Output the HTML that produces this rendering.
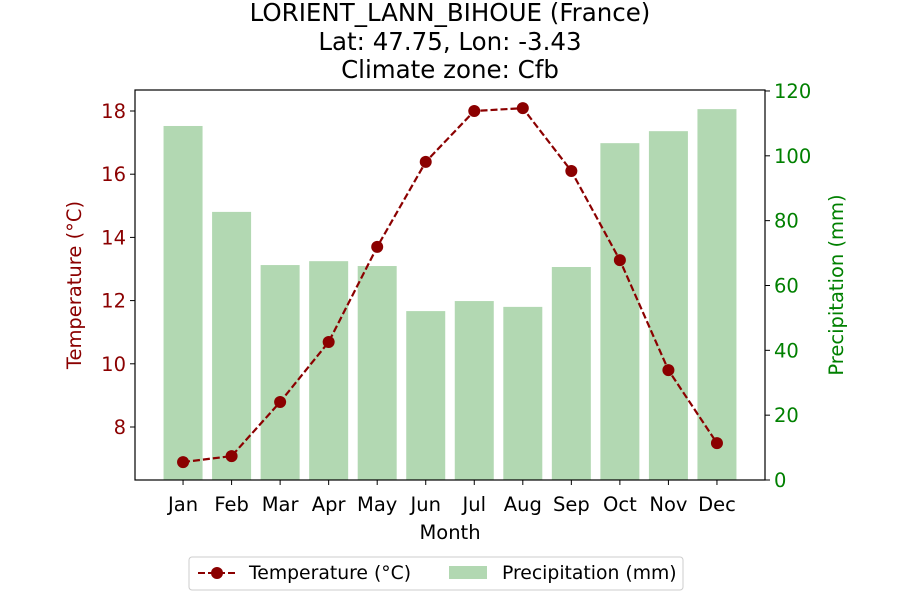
<!DOCTYPE html>
<html><head><meta charset="utf-8"><style>
body{margin:0;background:#fff;}
svg text{font-family:"DejaVu Sans","Liberation Sans",sans-serif;}
</style></head><body>
<svg id="chart" width="900" height="600" xmlns="http://www.w3.org/2000/svg">
<g id="title" font-size="24.5" text-anchor="middle" fill="#000">
<text x="450" y="21">LORIENT_LANN_BIHOUE (France)</text>
<text x="450" y="50">Lat: 47.75, Lon: -3.43</text>
<text x="450" y="78">Climate zone: Cfb</text>
</g>
<g id="bars"></g>
<g id="line"></g>
<rect x="135" y="90" width="630" height="390" fill="none" stroke="#000" stroke-width="1.2"/>
<g id="xticks"></g><g id="lticks"></g><g id="rticks"></g>
<text x="450" y="539" font-size="19.5" text-anchor="middle">Month</text>
<text transform="translate(81,285) rotate(-90)" font-size="19.5" text-anchor="middle" fill="#8b0000">Temperature (°C)</text>
<text transform="translate(843,285) rotate(-90)" font-size="19.5" text-anchor="middle" fill="#008000">Precipitation (mm)</text>
<g>
<rect x="189" y="557" width="494" height="33" fill="#fff" stroke="#ccc" rx="3"/>
<g>
<line x1="198" y1="573" x2="236" y2="573" stroke="#8b0000" stroke-width="2" stroke-dasharray="7,3"/>
<circle cx="217" cy="573" r="6" fill="#8b0000"/>
<text x="249" y="579" font-size="18.8">Temperature (°C)</text></g>
<g>
<rect x="449" y="566" width="38" height="13" fill="#b2d8b2"/>
<text x="502" y="579" font-size="18.8">Precipitation (mm)</text></g>
</g>
</svg>
<script>
const months=["Jan","Feb","Mar","Apr","May","Jun","Jul","Aug","Sep","Oct","Nov","Dec"];
const temperature=[6.89,7.08,8.79,10.69,13.70,16.39,18.0,18.09,16.10,13.28,9.80,7.49];
const precipitation=[109.2,82.7,66.3,67.5,66.0,52.1,55.2,53.4,65.7,103.9,107.6,114.4];
const tempTicks=[8,10,12,14,16,18];
const precipTicks=[0,20,40,60,80,100,120];
const NS="http://www.w3.org/2000/svg";
const X0=135,X1=765,Y0=90,Y1=480;
const xs=i=>X0+(i+0.99)/12.98*(X1-X0);
const yT=v=>111+(18-v)*31.6;
const yP=v=>Y1-v*(Y1-Y0)/120.3;
function mk(t,a,p){const e=document.createElementNS(NS,t);for(const k in a)e.setAttribute(k,a[k]);p.appendChild(e);return e;}
const bars=document.getElementById('bars');
precipitation.forEach((v,i)=>{const r=mk('rect',{x:xs(i)-19.5,y:yP(v),width:39,height:Y1-yP(v),fill:'#b2d8b2'},bars);

});
const line=document.getElementById('line');
const pl=mk('polyline',{points:temperature.map((v,i)=>xs(i)+','+yT(v)).join(' '),fill:'none',stroke:'#8b0000','stroke-width':2.2,'stroke-dasharray':'7,3'},line);


temperature.forEach((v,i)=>{const c=mk('circle',{cx:xs(i),cy:yT(v),r:6,fill:'#8b0000'},line);

});
const xt=document.getElementById('xticks');
months.forEach((m,i)=>{mk('line',{x1:xs(i),x2:xs(i),y1:Y1,y2:Y1+5,stroke:'#000'},xt);
const t=mk('text',{x:xs(i),y:511,'font-size':19.5,'text-anchor':'middle'},xt);t.textContent=m;

});
const lt=document.getElementById('lticks');
tempTicks.forEach(v=>{mk('line',{x1:X0-5,x2:X0,y1:yT(v),y2:yT(v),stroke:'#000'},lt);
const t=mk('text',{x:X0-9,y:yT(v)+7,'font-size':19.5,'text-anchor':'end',fill:'#8b0000'},lt);t.textContent=v;

});
const rt=document.getElementById('rticks');
precipTicks.forEach(v=>{mk('line',{x1:X1,x2:X1+5,y1:yP(v),y2:yP(v),stroke:'#000'},rt);
const t=mk('text',{x:X1+9,y:yP(v)+7,'font-size':19.5,fill:'#008000'},rt);t.textContent=v;

});
</script>
</body></html>
